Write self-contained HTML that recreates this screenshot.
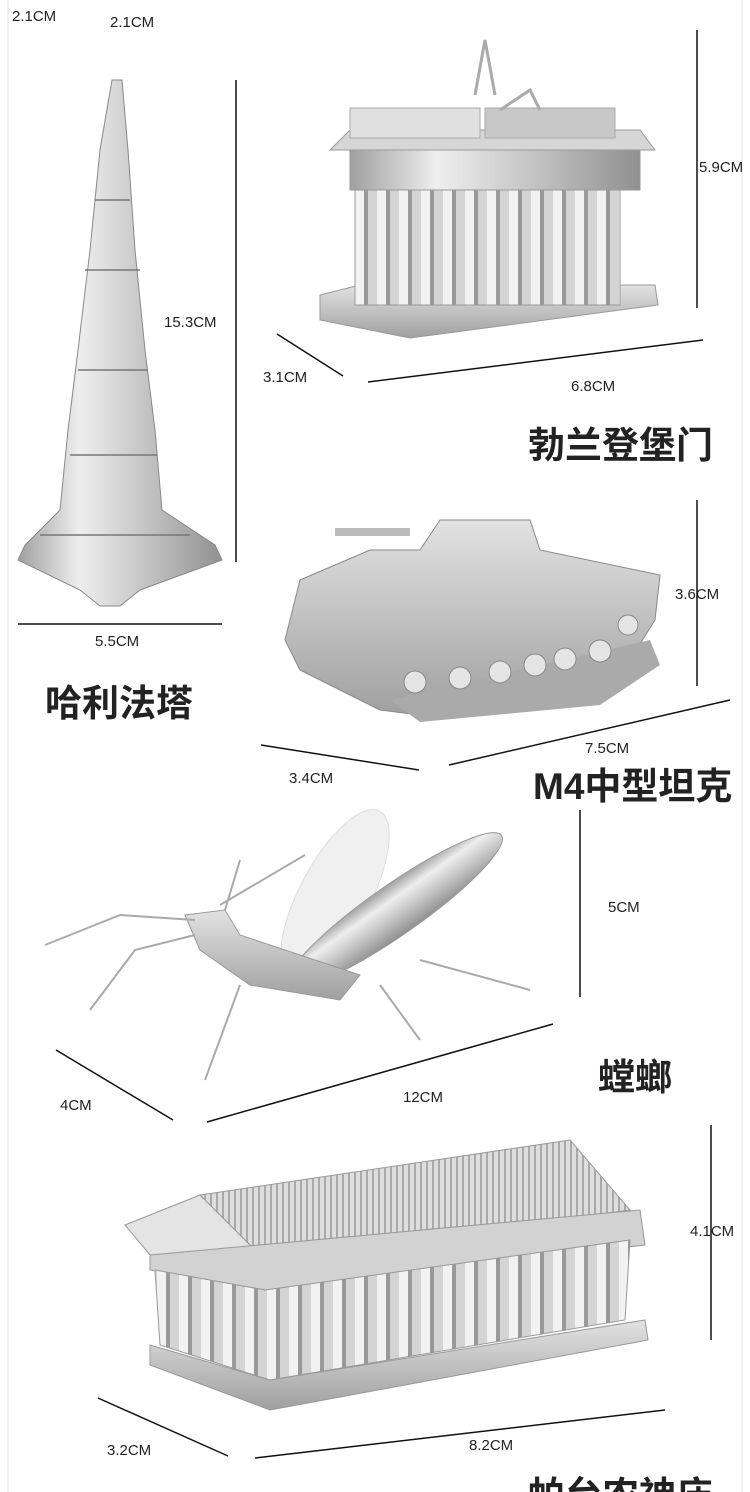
<!DOCTYPE html>
<html><head><meta charset="utf-8"><style>
html,body{margin:0;padding:0;background:#fff;}
svg{display:block;}
text{font-family:"Liberation Sans","Noto Sans CJK SC",sans-serif;}
.l{font-size:15px;fill:#222;}
.t{font-size:37px;font-weight:bold;fill:#222;}
</style></head><body>
<svg width="750" height="1492" viewBox="0 0 750 1492" xmlns="http://www.w3.org/2000/svg">
<defs>
<linearGradient id="m" x1="0" y1="0" x2="1" y2="0">
<stop offset="0" stop-color="#a0a0a0"/><stop offset="0.3" stop-color="#eeeeee"/><stop offset="0.6" stop-color="#c8c8c8"/><stop offset="1" stop-color="#909090"/></linearGradient>
<linearGradient id="v" x1="0" y1="0" x2="0" y2="1">
<stop offset="0" stop-color="#e2e2e2"/><stop offset="1" stop-color="#a0a0a0"/></linearGradient>
<pattern id="col" width="22" height="10" patternUnits="userSpaceOnUse">
<rect width="22" height="10" fill="#d4d4d4"/><rect x="3" width="9" height="10" fill="#f2f2f2"/><rect x="12" width="4" height="10" fill="#999"/></pattern>
<pattern id="roof" width="6" height="6" patternUnits="userSpaceOnUse">
<rect width="6" height="6" fill="#dedede"/><rect width="2" height="6" fill="#aaa"/></pattern>
</defs>
<rect width="750" height="1492" fill="#fff"/>
<line x1="8" y1="0" x2="8" y2="1492" stroke="#ddd"/>
<line x1="742" y1="0" x2="742" y2="1492" stroke="#ddd"/>

<polygon points="112,80 122,80 128,150 135,250 145,350 155,430 162,510 215,545 222,560 140,590 120,606 100,606 80,590 18,560 25,545 60,510 68,430 78,350 90,250 100,150" fill="url(#m)" stroke="#888" stroke-width="1"/>
<g stroke="#777" stroke-width="1.5"><line x1="95" y1="200" x2="130" y2="200"/><line x1="85" y1="270" x2="140" y2="270"/><line x1="78" y1="370" x2="148" y2="370"/><line x1="70" y1="455" x2="157" y2="455"/><line x1="40" y1="535" x2="190" y2="535"/></g>
<line x1="236" y1="80" x2="236" y2="562" stroke="#111" stroke-width="1.5"/>
<line x1="18" y1="624" x2="222" y2="624" stroke="#111" stroke-width="1.5"/>

<polygon points="320,295 360,285 655,285 658,305 410,338 320,320" fill="url(#v)" stroke="#999"/>
<rect x="350" y="150" width="290" height="40" fill="url(#m)" stroke="#999"/>
<polygon points="330,150 350,130 640,130 655,150" fill="#d6d6d6" stroke="#999"/>
<rect x="350" y="108" width="130" height="30" fill="#e0e0e0" stroke="#aaa"/>
<rect x="485" y="108" width="130" height="30" fill="#c8c8c8" stroke="#aaa"/>
<rect x="355" y="190" width="265" height="115" fill="url(#col)" stroke="#999"/>
<path d="M475,95 l10,-55 l10,55 M500,110 l30,-20 l10,20" stroke="#aaa" stroke-width="3" fill="none"/>
<line x1="697" y1="30" x2="697" y2="308" stroke="#111" stroke-width="1.5"/>
<line x1="277" y1="334" x2="343" y2="376" stroke="#111" stroke-width="1.5"/>
<line x1="368" y1="382" x2="703" y2="340" stroke="#111" stroke-width="1.5"/>

<polygon points="300,580 370,550 420,550 440,520 530,520 540,550 660,575 655,620 630,660 560,700 420,715 380,710 300,670 285,640" fill="url(#v)" stroke="#888"/>
<rect x="335" y="528" width="75" height="8" fill="#bbb"/>
<polygon points="390,700 650,640 660,665 600,705 420,722" fill="#aaa"/>
<g fill="#e4e4e4" stroke="#888"><circle cx="415" cy="682" r="11"/><circle cx="460" cy="678" r="11"/><circle cx="500" cy="672" r="11"/><circle cx="535" cy="665" r="11"/><circle cx="565" cy="659" r="11"/><circle cx="600" cy="651" r="11"/><circle cx="628" cy="625" r="10"/></g>
<line x1="697" y1="500" x2="697" y2="686" stroke="#111" stroke-width="1.5"/>
<line x1="261" y1="745" x2="419" y2="770" stroke="#111" stroke-width="1.5"/>
<line x1="449" y1="765" x2="730" y2="700" stroke="#111" stroke-width="1.5"/>

<ellipse cx="335" cy="895" rx="35" ry="95" transform="rotate(28 335 895)" fill="#f0f0f0" stroke="#ddd"/>
<ellipse cx="395" cy="910" rx="25" ry="130" transform="rotate(55 395 910)" fill="url(#m)" stroke="#999"/>
<polygon points="185,915 225,910 240,935 360,975 340,1000 250,985 200,950" fill="url(#v)" stroke="#999"/>
<g stroke="#aaa" stroke-width="2" fill="none"><path d="M195,920 L120,915 L45,945"/><path d="M195,935 L135,950 L90,1010"/><path d="M220,905 L305,855"/><path d="M225,910 L240,860"/><path d="M240,985 L205,1080"/><path d="M420,960 L530,990"/><path d="M380,985 L420,1040"/></g>
<line x1="580" y1="810" x2="580" y2="997" stroke="#111" stroke-width="1.5"/>
<line x1="56" y1="1050" x2="173" y2="1120" stroke="#111" stroke-width="1.5"/>
<line x1="207" y1="1122" x2="553" y2="1024" stroke="#111" stroke-width="1.5"/>

<polygon points="200,1195 570,1140 630,1210 265,1260" fill="url(#roof)" stroke="#999"/>
<polygon points="125,1225 200,1195 265,1260 150,1255" fill="#e4e4e4" stroke="#999"/>
<polygon points="150,1255 640,1210 645,1245 265,1290 150,1270" fill="#d2d2d2" stroke="#999"/>
<polygon points="155,1270 265,1290 630,1240 625,1320 270,1380 160,1345" fill="url(#col)" stroke="#999"/>
<polygon points="150,1345 270,1380 645,1320 648,1340 270,1410 150,1365" fill="url(#v)" stroke="#999"/>
<line x1="711" y1="1125" x2="711" y2="1340" stroke="#111" stroke-width="1.5"/>
<line x1="98" y1="1398" x2="228" y2="1456" stroke="#111" stroke-width="1.5"/>
<line x1="255" y1="1458" x2="665" y2="1410" stroke="#111" stroke-width="1.5"/>

<text class="l" x="12" y="21">2.1CM</text>
<text class="l" x="110" y="27">2.1CM</text>
<text class="l" x="164" y="327">15.3CM</text>
<text class="l" x="95" y="646">5.5CM</text>
<text class="t" x="45" y="716">哈利法塔</text>
<text class="l" x="699" y="172">5.9CM</text>
<text class="l" x="263" y="382">3.1CM</text>
<text class="l" x="571" y="391">6.8CM</text>
<text class="t" x="528" y="458">勃兰登堡门</text>
<text class="l" x="675" y="599">3.6CM</text>
<text class="l" x="289" y="783">3.4CM</text>
<text class="l" x="585" y="753">7.5CM</text>
<text class="t" x="533" y="799">M4中型坦克</text>
<text class="l" x="608" y="912">5CM</text>
<text class="l" x="60" y="1110">4CM</text>
<text class="l" x="403" y="1102">12CM</text>
<text class="t" x="598" y="1090">螳螂</text>
<text class="l" x="690" y="1236">4.1CM</text>
<text class="l" x="107" y="1455">3.2CM</text>
<text class="l" x="469" y="1450">8.2CM</text>
<text class="t" x="528" y="1508">帕台农神庙</text>
</svg>
</body></html>
